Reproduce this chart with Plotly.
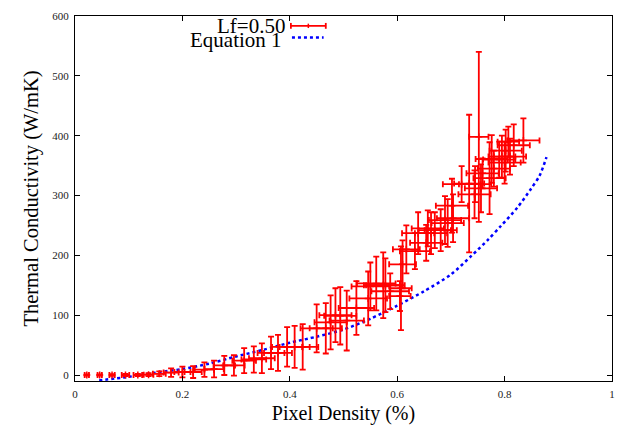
import plotly.graph_objects as go

# Measured data (Lf=0.50)
px_density = [0.022, 0.046, 0.069, 0.094, 0.117, 0.137, 0.157, 0.179, 0.200, 0.220,
              0.241, 0.259, 0.278, 0.296, 0.315, 0.333, 0.348, 0.365, 0.378, 0.395,
              0.409, 0.424, 0.450, 0.467, 0.476, 0.485, 0.494, 0.506, 0.524, 0.546,
              0.550, 0.561, 0.574, 0.578, 0.587, 0.605, 0.607, 0.610, 0.617, 0.633,
              0.639, 0.654, 0.657, 0.663, 0.670, 0.681, 0.689, 0.694, 0.702, 0.704,
              0.720, 0.734, 0.744, 0.745, 0.752, 0.756, 0.759, 0.772, 0.776, 0.780,
              0.790, 0.795, 0.800, 0.802, 0.807, 0.810, 0.817, 0.835]
conductivity = [0, 0, 0, 0, 0, 0.5, 2, 4, 5, 5,
                9, 10, 16, 16, 24, 26, 28, 37, 37, 47,
                47, 47, 78, 78, 88, 100, 99, 91, 112, 128,
                148, 153, 150, 150, 140, 132, 145, 185, 210, 207,
                237, 221, 245, 237, 242, 242, 259, 254, 283, 262,
                319, 320, 302, 319, 398, 312, 337, 329, 361, 345,
                360, 365, 355, 375, 390, 365, 384, 392]
x_err = [0.004, 0.004, 0.005, 0.007, 0.008, 0.009, 0.012, 0.014, 0.015, 0.016,
         0.018, 0.018, 0.020, 0.020, 0.022, 0.023, 0.024, 0.025, 0.026, 0.028,
         0.028, 0.029, 0.030, 0.030, 0.030, 0.030, 0.030, 0.032, 0.033, 0.035,
         0.035, 0.036, 0.036, 0.036, 0.035, 0.020, 0.020, 0.025, 0.025, 0.028,
         0.030, 0.030, 0.030, 0.030, 0.030, 0.030, 0.030, 0.030, 0.030, 0.030,
         0.035, 0.028, 0.030, 0.030, 0.018, 0.030, 0.030, 0.030, 0.030, 0.030,
         0.030, 0.025, 0.030, 0.030, 0.020, 0.030, 0.030, 0.030]
y_err = [1, 1, 1.5, 2, 2, 2.5, 4, 7, 9, 10,
         12, 14, 16, 17, 21, 22, 25, 27, 30, 33,
         35, 38, 40, 42, 45, 45, 48, 50, 45, 45,
         40, 45, 55, 45, 30, 25, 70, 40, 40, 30,
         35, 30, 30, 35, 30, 35, 40, 40, 45, 40,
         30, 115, 40, 30, 142, 40, 25, 60, 40, 30,
         30, 35, 35, 35, 25, 30, 35, 37]

# Equation 1 curve
eq_x = [0.045, 0.10, 0.15, 0.20, 0.25, 0.30, 0.35, 0.40, 0.45, 0.50,
        0.55, 0.60, 0.65, 0.70, 0.738, 0.769, 0.793, 0.824, 0.849, 0.865, 0.878]
eq_y = [-9, -3, 4, 10, 19, 31, 42, 54, 64, 76,
        94, 116, 140, 168, 199, 226, 249, 280, 311, 333, 364]

x_ticks = [0, 0.2, 0.4, 0.6, 0.8, 1]
y_ticks = [0, 100, 200, 300, 400, 500, 600]

serif = "Liberation Serif"

fig = go.Figure()
fig.add_trace(go.Scatter(
    x=eq_x, y=eq_y, mode="lines", name="Equation 1",
    line=dict(color="#0000ff", width=2.5, dash="dot", shape="spline", smoothing=0.8),
    showlegend=False))
fig.add_trace(go.Scatter(
    x=px_density, y=conductivity, mode="markers", name="Lf=0.50",
    marker=dict(symbol="cross-thin", size=5, color="#ff0000",
                line=dict(color="#ff0000", width=1.5)),
    error_x=dict(type="data", array=x_err, visible=True, color="#ff0000",
                 thickness=1.8, width=3),
    error_y=dict(type="data", array=y_err, visible=True, color="#ff0000",
                 thickness=1.8, width=3),
    showlegend=False))

axis_common = dict(showline=True, linecolor="black", linewidth=1.2, mirror="allticks",
                   ticks="inside", ticklen=5, tickcolor="black", showgrid=False,
                   zeroline=False, ticklabelstandoff=3,
                   tickfont=dict(family=serif, size=11, color="#222"))

fig.update_layout(
    width=625, height=430,
    margin=dict(l=75, r=10, t=12, b=45),
    paper_bgcolor="white", plot_bgcolor="white",
    xaxis=dict(range=[0, 1], tickvals=x_ticks, ticktext=["0", "0.2", "0.4", "0.6", "0.8", "1"],
               title=dict(text="Pixel Density (%)", font=dict(family=serif, size=20, color="black"),
                          standoff=6),
               **axis_common),
    yaxis=dict(range=[-10, 600], tickvals=y_ticks,
               title=dict(text="Thermal Conductivity (W/mK)",
                          font=dict(family=serif, size=20.5, color="black"), standoff=8),
               **axis_common),
    showlegend=False,
)

# legend (gnuplot style: text right-aligned, sample on the right)
fig.add_annotation(xref="paper", yref="paper", x=0.395, y=0.973, text="Lf=0.50",
                   showarrow=False, xanchor="right", yanchor="middle",
                   font=dict(family=serif, size=21, color="black"))
fig.add_annotation(xref="paper", yref="paper", x=0.390, y=0.933, text="Equation 1",
                   showarrow=False, xanchor="right", yanchor="middle",
                   font=dict(family=serif, size=21, color="black"))
red = "#ff0000"
fig.add_shape(type="line", xref="paper", yref="paper", x0=0.402, x1=0.467, y0=0.973, y1=0.973,
              line=dict(color=red, width=1.8))
for xx in (0.402, 0.467):
    fig.add_shape(type="line", xref="paper", yref="paper", x0=xx, x1=xx, y0=0.965, y1=0.981,
                  line=dict(color=red, width=1.8))
fig.add_shape(type="line", xref="paper", yref="paper", x0=0.4345, x1=0.4345, y0=0.967, y1=0.979,
              line=dict(color=red, width=1.5))
fig.add_shape(type="line", xref="paper", yref="paper", x0=0.404, x1=0.463, y0=0.941, y1=0.941,
              line=dict(color="#0000ff", width=2.5, dash="dot"))

fig.write_html("out.html")
